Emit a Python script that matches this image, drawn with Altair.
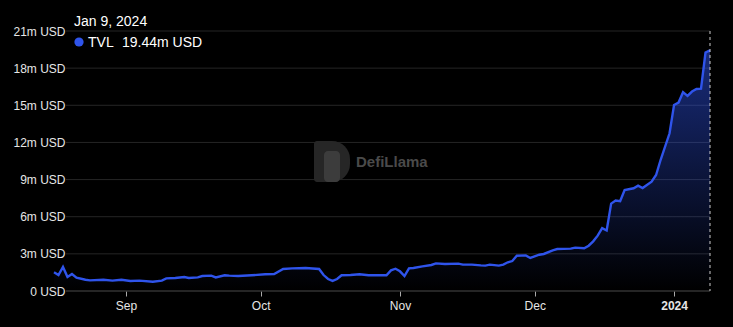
import altair as alt
import pandas as pd

# ---- data ----
dates = [
    "2023-08-16", "2023-08-17", "2023-08-18", "2023-08-19", "2023-08-20", "2023-08-21",
    "2023-08-23", "2023-08-24", "2023-08-27", "2023-08-29", "2023-08-31",
    "2023-09-02", "2023-09-04", "2023-09-07", "2023-09-09", "2023-09-10", "2023-09-12",
    "2023-09-14", "2023-09-15", "2023-09-17", "2023-09-18", "2023-09-20", "2023-09-21",
    "2023-09-23", "2023-09-24", "2023-09-26", "2023-09-29",
    "2023-10-02", "2023-10-04", "2023-10-06", "2023-10-08", "2023-10-11", "2023-10-14",
    "2023-10-15", "2023-10-16", "2023-10-17", "2023-10-18", "2023-10-19", "2023-10-21",
    "2023-10-23", "2023-10-25", "2023-10-29", "2023-10-30", "2023-10-31",
    "2023-11-01", "2023-11-02", "2023-11-03", "2023-11-04", "2023-11-06", "2023-11-08",
    "2023-11-09", "2023-11-11", "2023-11-14", "2023-11-15", "2023-11-17", "2023-11-19",
    "2023-11-20", "2023-11-21", "2023-11-23", "2023-11-24", "2023-11-25", "2023-11-26",
    "2023-11-27", "2023-11-29", "2023-11-30",
    "2023-12-02", "2023-12-03", "2023-12-05", "2023-12-06", "2023-12-09", "2023-12-10",
    "2023-12-12", "2023-12-13", "2023-12-14", "2023-12-15", "2023-12-16", "2023-12-17",
    "2023-12-18", "2023-12-19", "2023-12-20", "2023-12-21", "2023-12-23", "2023-12-24",
    "2023-12-25", "2023-12-27", "2023-12-28", "2023-12-29", "2023-12-31",
    "2024-01-01", "2024-01-02", "2024-01-03", "2024-01-04", "2024-01-05", "2024-01-06",
    "2024-01-07", "2024-01-08", "2024-01-09",
]
tvl_m = [
    1.51, 1.29, 1.94, 1.13, 1.37, 1.08,
    0.91, 0.86, 0.91, 0.84, 0.91,
    0.81, 0.84, 0.75, 0.84, 1.02, 1.05,
    1.13, 1.05, 1.10, 1.21, 1.24, 1.10,
    1.27, 1.24, 1.21, 1.27,
    1.35, 1.37, 1.78, 1.83, 1.86, 1.78,
    1.29, 0.97, 0.81, 0.97, 1.27, 1.29,
    1.35, 1.27, 1.27, 1.67, 1.80,
    1.59, 1.21, 1.83, 1.86, 1.99, 2.10,
    2.23, 2.18, 2.21, 2.13, 2.13, 2.07,
    2.05, 2.13, 2.05, 2.13, 2.32, 2.42,
    2.85, 2.88, 2.67,
    2.93, 2.99, 3.29, 3.39, 3.42, 3.50,
    3.45, 3.66, 4.01, 4.47, 5.08, 4.89,
    7.06, 7.30, 7.25, 8.16, 8.30, 8.51,
    8.32, 8.83, 9.37, 10.58, 12.74,
    15.03, 15.22, 16.06, 15.76, 16.11, 16.32,
    16.35, 19.26, 19.44,
]
y_ticks = [0, 3, 6, 9, 12, 15, 18, 21]
x_ticks = ["2023-09-01", "2023-10-01", "2023-11-01", "2023-12-01", "2024-01-01"]
series_name = "TVL"
watermark = "DefiLlama"

W, H = 656, 260
BLUE = "#2F54EB"
FONT = "Liberation Sans"

df = pd.DataFrame({"date": dates, "tvl": tvl_m})
last_date = pd.Timestamp(dates[-1])
title_txt = f"{last_date.strftime('%b')} {last_date.day}, {last_date.year}"
value_txt = f"{tvl_m[-1]:.2f}m USD"

def ms(d):
    return int(pd.Timestamp(d, tz="UTC").value // 10**6)

x_scale = alt.Scale(type="utc", domain=[ms(dates[0]), ms(dates[-1])], nice=False)
y_scale = alt.Scale(domain=[0, 21], nice=False)

x_axis = alt.Axis(
    values=[ms(d) for d in x_ticks],
    labelExpr="utcmonth(datum.value) == 0 ? utcFormat(datum.value, '%Y') : utcFormat(datum.value, '%b')",
    labelFontWeight={"condition": {"test": "utcmonth(datum.value) == 0", "value": "bold"}, "value": "normal"},
    domain=False, grid=False, ticks=True, tickSize=5, tickColor="#aaaaaa",
    labelPadding=4, labelColor="#e6e6e6", labelFontSize=12, labelFont=FONT,
    title=None,
)
y_axis = alt.Axis(
    values=y_ticks,
    labelExpr="datum.value == 0 ? '0 USD' : datum.value + 'm USD'",
    domain=False, grid=False, ticks=False, tickSize=0, offset=-15, labelPadding=4,
    labelColor="#e6e6e6", labelFontSize=12, labelFont=FONT, title=None,
)

grid_df = pd.DataFrame({"tvl": [t for t in y_ticks if t != 0]})
grid = alt.Chart(grid_df).mark_rule(color="#252525", strokeWidth=1).encode(
    y=alt.Y("tvl:Q", scale=y_scale, axis=y_axis),
    x=alt.value(12), x2=alt.value(W),
)
base_df = pd.DataFrame({"tvl": [0]})
baseline = alt.Chart(base_df).mark_rule(color="#4a4a4a", strokeWidth=1).encode(
    y=alt.Y("tvl:Q", scale=y_scale, axis=y_axis),
    x=alt.value(12), x2=alt.value(W),
)

# watermark
logo = alt.Chart(pd.DataFrame({"t": [watermark]})).mark_rect(
    color="#262626", cornerRadiusTopRight=20, cornerRadiusBottomRight=20,
    cornerRadiusTopLeft=3, cornerRadiusBottomLeft=3,
).encode(x=alt.value(260), x2=alt.value(296), y=alt.value(110), y2=alt.value(151))
llama = alt.Chart(pd.DataFrame({"t": [watermark]})).mark_rect(
    color="#3c3c3c", cornerRadius=4,
).encode(x=alt.value(270), x2=alt.value(286), y=alt.value(120), y2=alt.value(151))
wm_text = alt.Chart(pd.DataFrame({"t": [watermark]})).mark_text(
    align="left", baseline="middle", font=FONT, fontSize=15, fontWeight="bold", color="#4a4a4a",
).encode(x=alt.value(302), y=alt.value(131), text="t:N")

area = alt.Chart(df).mark_area(
    line={"color": BLUE, "strokeWidth": 2.4},
    color=alt.Gradient(
        gradient="linear", x1=0, y1=0, x2=0, y2=1,
        stops=[
            alt.GradientStop(color="rgba(47,84,235,0.75)", offset=0),
            alt.GradientStop(color="rgba(47,84,235,0.0)", offset=1),
        ],
    ),
).encode(
    x=alt.X("date:T", scale=x_scale, axis=x_axis),
    y=alt.Y("tvl:Q", scale=y_scale, axis=y_axis),
)

cursor = alt.Chart(pd.DataFrame({"date": [dates[-1]]})).mark_rule(
    color="#cccccc", strokeDash=[3, 3], strokeWidth=1,
).encode(
    x=alt.X("date:T", scale=x_scale, axis=x_axis),
    y=alt.value(0), y2=alt.value(H),
)

title = alt.Chart(pd.DataFrame({"t": [title_txt]})).mark_text(
    align="left", baseline="alphabetic", font=FONT, fontSize=14, color="#ffffff",
).encode(x=alt.value(20), y=alt.value(-5), text="t:N")
dot = alt.Chart(pd.DataFrame({"t": [series_name]})).mark_circle(
    color=BLUE, opacity=1, size=85,
).encode(x=alt.value(25), y=alt.value(11))
leg_name = alt.Chart(pd.DataFrame({"t": [series_name]})).mark_text(
    align="left", baseline="alphabetic", font=FONT, fontSize=14, color="#ffffff",
).encode(x=alt.value(34), y=alt.value(16), text="t:N")
leg_val = alt.Chart(pd.DataFrame({"t": [value_txt]})).mark_text(
    align="left", baseline="alphabetic", font=FONT, fontSize=14, color="#ffffff",
).encode(x=alt.value(68), y=alt.value(16), text="t:N")

chart = alt.layer(
    grid, baseline, logo, llama, wm_text, area, cursor, title, dot, leg_name, leg_val
).properties(
    width=W, height=H,
    autosize=alt.AutoSizeParams(type="none"),
    padding={"left": 54, "top": 31, "right": 23, "bottom": 36},
    background="#000000",
).configure_view(stroke=None)

chart.save("out.html", embed_options={"renderer": "svg", "actions": False})
